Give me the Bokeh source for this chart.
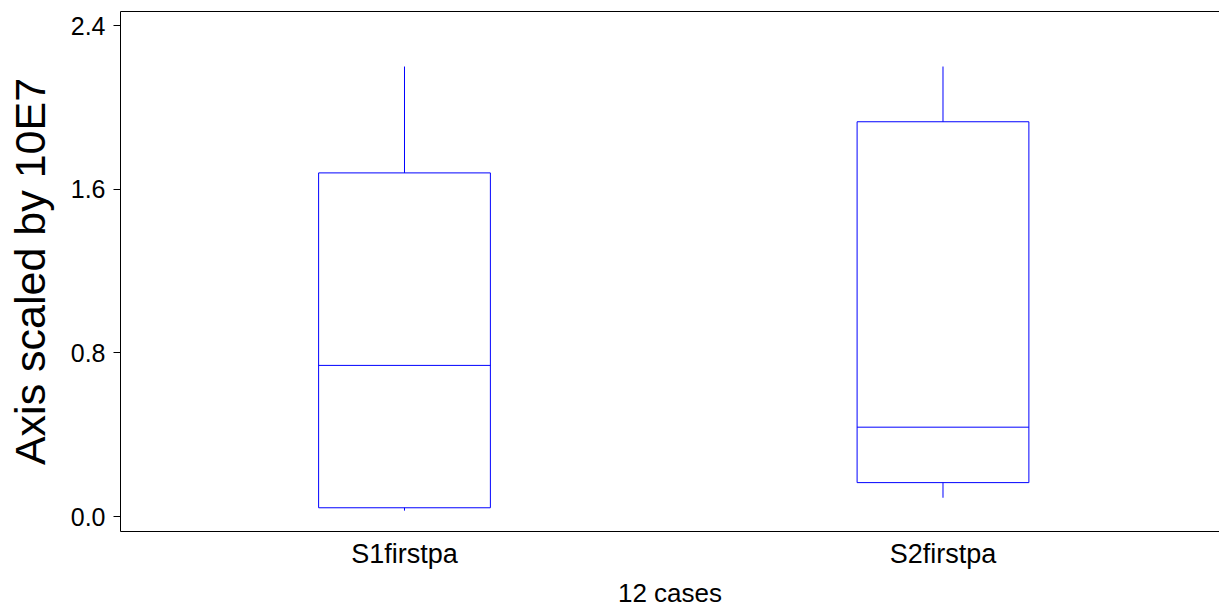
from bokeh.plotting import figure
from bokeh.models import FixedTicker, LinearAxis, Range1d, PrintfTickFormatter
from bokeh.embed import file_html
from bokeh.resources import INLINE

categories = ["S1firstpa", "S2firstpa"]
whisker_low = [0.029, 0.092]
q1 = [0.043, 0.166]
median = [0.739, 0.437]
q3 = [1.680, 1.930]
whisker_high = [2.200, 2.200]
y_ticks = [0.0, 0.8, 1.6, 2.4]

xs = [i + 1 for i in range(len(categories))]
box_w = 0.319
FONT = "Liberation Sans"
BLUE = "#0000ff"

p = figure(width=1219, height=612, output_backend="svg", toolbar_location=None,
           x_range=Range1d(0.4726, 2.5135), y_range=Range1d(-0.073, 2.469),
           min_border_left=120, min_border_top=11, min_border_right=0, min_border_bottom=81)
p.outline_line_color = None
p.xgrid.visible = False
p.ygrid.visible = False
p.background_fill_color = "white"

p.vbar(x=xs, width=box_w, bottom=q1, top=q3, fill_color=None, line_color=BLUE, line_width=1)
p.segment(x0=[x - box_w / 2 for x in xs], x1=[x + box_w / 2 for x in xs],
          y0=median, y1=median, line_color=BLUE, line_width=1)
p.segment(x0=xs, x1=xs, y0=q3, y1=whisker_high, line_color=BLUE, line_width=1)
p.segment(x0=xs, x1=xs, y0=whisker_low, y1=q1, line_color=BLUE, line_width=1)

# y axis
ya = p.yaxis[0]
ya.ticker = FixedTicker(ticks=y_ticks)
ya.formatter = PrintfTickFormatter(format="%.1f")
ya.axis_label = "Axis scaled by 10E7"
ya.axis_label_text_font = FONT
ya.axis_label_text_font_size = "43px"
ya.axis_label_text_font_style = "normal"
ya.axis_label_text_color = "black"
ya.axis_label_standoff = 14
ya.major_label_text_font = FONT
ya.major_label_text_font_size = "25px"
ya.major_label_text_color = "black"
ya.major_label_standoff = 8
ya.major_tick_out = 7
ya.major_tick_in = 0
ya.minor_tick_out = 0
ya.minor_tick_in = 0
ya.axis_line_color = "black"
ya.major_tick_line_color = "black"

# x axis
xa = p.xaxis[0]
xa.ticker = FixedTicker(ticks=xs)
xa.major_label_overrides = {x: c for x, c in zip(xs, categories)}
xa.axis_label = "12 cases"
xa.axis_label_text_font = FONT
xa.axis_label_text_font_size = "26px"
xa.axis_label_text_font_style = "normal"
xa.axis_label_text_color = "black"
xa.axis_label_standoff = 6
xa.major_label_text_font = FONT
xa.major_label_text_font_size = "27px"
xa.major_label_text_color = "black"
xa.major_label_standoff = 7
xa.major_tick_out = 0
xa.major_tick_in = 0
xa.minor_tick_out = 0
xa.minor_tick_in = 0
xa.axis_line_color = "black"

# top border line
top = LinearAxis(ticker=FixedTicker(ticks=[]), major_tick_out=0, major_tick_in=0,
                 minor_tick_out=0, minor_tick_in=0, axis_line_color="black")
p.add_layout(top, "above")

open("out.html", "w").write(file_html(p, INLINE))
